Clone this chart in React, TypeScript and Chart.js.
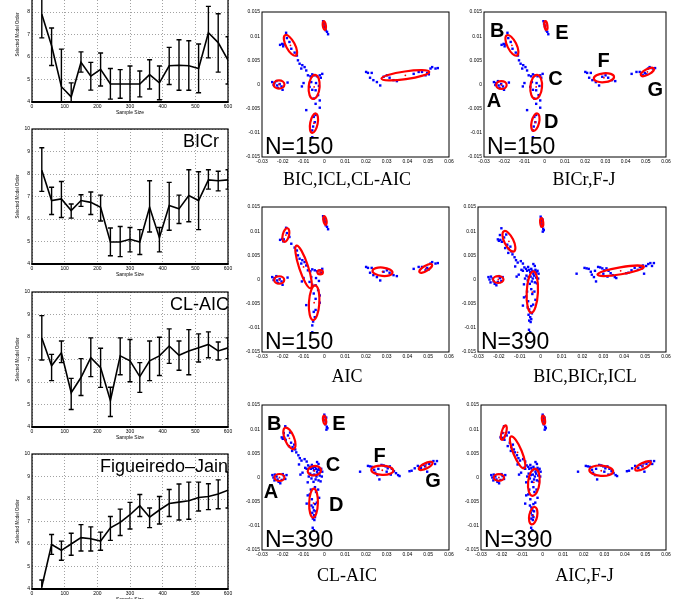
import React, { useEffect, useRef } from "react";
import { Chart, registerables } from "chart.js";

Chart.register(...registerables);

// ---------------- Line charts (selected model order vs sample size) ----------------
const SAMPLE_SIZES = [30, 60, 90, 120, 150, 180, 210, 240, 270, 300, 330, 360, 390, 420, 450, 480, 510, 540, 570, 600];

const ICL_MEAN = [7.9, 6.5, 4.68, 4.23, 5.76, 5.15, 5.45, 4.8, 4.8, 4.8, 4.8, 5.22, 4.85, 5.61, 5.63, 5.61, 5.49, 7.08, 6.64, 5.86];
const ICL_LO = [6.85, 5.62, 3.0, 3.6, 5.33, 4.53, 4.71, 4.13, 4.17, 4.0, 4.23, 4.58, 4.1, 4.78, 4.52, 4.52, 4.41, 5.96, 5.33, 4.8];
const ICL_HI = [8.95, 7.29, 6.35, 4.85, 6.23, 5.76, 6.18, 5.49, 5.44, 5.6, 5.38, 5.88, 5.6, 6.43, 6.77, 6.72, 6.58, 8.25, 7.92, 6.9];

const BICR_MEAN = [8.17, 6.82, 6.89, 6.38, 6.82, 6.74, 6.52, 4.98, 4.98, 5.1, 4.98, 6.52, 5.17, 6.6, 6.45, 7.04, 6.82, 7.74, 7.7, 7.74];
const BICR_LO = [7.23, 6.2, 6.07, 6.04, 6.56, 6.2, 5.91, 4.37, 4.33, 4.54, 4.42, 5.42, 4.54, 5.5, 5.8, 5.88, 5.53, 7.33, 7.25, 7.33];
const BICR_HI = [9.17, 7.41, 7.67, 6.67, 7.08, 7.2, 7.06, 5.6, 5.67, 5.62, 5.53, 7.7, 5.62, 7.63, 7.06, 8.19, 8.1, 8.19, 8.12, 8.19];

const CLAIC_MEAN = [7.96, 6.72, 7.3, 5.52, 6.2, 7.08, 6.64, 5.18, 7.16, 6.94, 6.24, 6.94, 7.16, 7.6, 7.19, 7.38, 7.52, 7.67, 7.38, 7.52];
const CLAIC_LO = [6.98, 6.06, 6.86, 4.78, 5.4, 6.24, 5.76, 4.47, 6.32, 6.01, 5.54, 6.06, 6.29, 6.83, 6.52, 6.32, 6.89, 7.08, 6.98, 7.04];
const CLAIC_HI = [8.95, 7.23, 7.82, 6.16, 7.04, 7.96, 7.5, 5.77, 7.96, 7.89, 6.86, 7.82, 7.99, 8.36, 7.82, 8.33, 8.14, 8.23, 7.78, 7.96];

const FJ_MEAN = [4.1, 5.98, 5.72, 6.0, 6.28, 6.23, 6.13, 6.72, 6.96, 7.3, 7.7, 7.19, 7.51, 7.8, 7.86, 7.92, 8.07, 8.11, 8.22, 8.39];
const FJ_LO = [3.8, 5.54, 5.28, 5.5, 5.69, 5.69, 5.72, 6.16, 6.38, 6.67, 7.22, 6.73, 6.89, 7.22, 7.07, 7.1, 7.47, 7.53, 7.57, 7.6];
const FJ_HI = [4.4, 6.42, 6.13, 6.48, 6.86, 6.76, 6.53, 7.22, 7.55, 7.85, 8.2, 7.6, 8.11, 8.42, 8.67, 8.75, 8.75, 8.68, 8.85, 9.2];

const X_TICKS_STEP = 100;
const Y_ORDER_MIN = 4;
const Y_ORDER_MAX = 10;

// ---------------- Scatter plots (values in units of 1e-3) ----------------
const PTS_N150: [number, number][] = [
  [-25.1, 0.5], [-24.0, 0.3], [-23.1, 0.7], [-22.3, -0.7], [-20.6, -0.4], [-20.1, -1.1], [-17.7, 0.4], [-21.5, 0.1], [-22.8, -0.2], [-24.4, -0.1],
  [-18.4, 10.7], [-21.3, 8.2], [-20.3, 8.4], [-19.5, 8.3], [-16.8, 8.8], [-15.9, 7.4], [-14.3, 6.6], [-13.2, 6.0], [-18.0, 9.6], [-19.8, 7.9],
  [-12.7, 5.0], [-11.9, 4.3], [-10.6, 4.0], [-9.5, 3.6], [-8.7, 2.9], [-11.1, 3.3],
  [-10.8, -0.4], [-10.0, 0.3], [-7.9, 1.9], [-6.7, 1.7], [-5.8, 2.1], [-4.6, 1.9], [-3.5, 1.7], [-2.2, 1.9], [-1.7, 1.4], [-7.1, -0.5],
  [-6.3, 0.5], [-4.2, -1.2], [-3.0, -2.2], [-2.2, -3.3], [-4.2, -4.0], [-5.1, -2.9], [-2.2, -4.8], [-8.7, -5.3], [-5.8, -1.1], [-1.0, 2.2],
  [-4.0, 0.3], [-2.6, -0.3],
  [-5.1, -6.7], [-4.6, -7.8], [-5.4, -8.7], [-5.8, -9.5], [-5.8, -10.9], [-4.2, -6.3],
  [-0.6, 13.1], [-0.3, 12.6], [0.2, 11.9], [0.7, 11.2], [1.3, 10.9], [0.1, 12.2], [1.8, 10.4],
  [20.1, 2.6], [22.8, 2.4], [22.0, 1.4], [23.6, 0.9], [25.3, 0.5], [26.9, -0.2], [30.1, 1.9], [31.4, 1.4], [33.3, 0.9], [34.9, 0.7], [28.5, 1.6], [21.0, 2.4],
  [43.0, 2.2], [45.4, 2.6], [47.0, 2.6], [49.5, 2.4], [51.1, 3.3], [51.9, 3.6], [53.5, 3.3], [50.3, 2.1], [48.7, 1.9], [54.6, 3.4],
];

const PTS_N390: [number, number][] = [
  [-25.0, 0.5], [-24.5, 0.0], [-23.8, 0.6], [-23.0, 0.2], [-22.5, -0.4], [-22.0, -0.9], [-21.2, -1.2], [-20.5, -0.5], [-19.5, 0.3], [-18.8, -0.3], [-18.2, 0.5], [-24.0, -0.6], [-20.0, 0.7],
  [-18.8, 10.6], [-19.5, 9.2], [-20.5, 8.3], [-20.0, 8.0], [-19.3, 8.2], [-18.6, 7.8], [-17.5, 8.7], [-16.5, 9.3], [-16.0, 7.2], [-15.3, 6.3], [-14.5, 6.8], [-14.0, 5.8], [-13.5, 5.2], [-15.5, 5.5], [-17.0, 6.5],
  [-12.5, 4.6], [-11.8, 4.0], [-11.0, 3.5], [-12.2, 2.7], [-9.5, 3.8], [-8.5, 3.3], [-9.2, 2.0], [-10.5, 1.0], [-11.5, 0.6],
  [-8.5, 1.8], [-7.8, 2.5], [-7.0, 2.2], [-6.5, 1.8], [-6.0, 2.6], [-5.5, 2.0], [-5.0, 1.5], [-4.5, 2.2], [-4.0, 1.8], [-3.5, 1.2], [-3.0, 1.6], [-2.5, 2.0], [-2.0, 1.5], [-1.5, 1.8], [-1.0, 1.2],
  [-6.8, 0.8], [-5.8, 0.5], [-4.8, 0.6], [-3.8, 0.2], [-3.2, 0.8], [-2.2, 0.4], [-1.2, 0.2], [-7.5, 0.2], [-6.2, -0.2], [-4.2, -0.4], [-2.8, -0.6], [-1.8, -0.8], [-5.2, -0.9], [-3.5, 3.2], [-2.8, 2.8], [-8.0, -1.0],
  [-6.5, -2.5], [-7.0, -3.5], [-8.0, -3.7], [-6.0, -4.5], [-4.0, -3.0], [-3.0, -2.5], [-4.5, -2.0], [-2.5, -4.2], [-3.6, -5.2], [-8.5, -5.4],
  [-6.2, -5.8], [-5.5, -6.2], [-4.5, -5.5], [-5.0, -6.8], [-4.2, -7.0], [-5.8, -7.3], [-5.0, -7.8], [-4.5, -8.2], [-5.5, -8.5], [-4.8, -8.8], [-5.6, -10.4], [-5.0, -10.9],
  [0.0, 13.0], [0.3, 12.6], [0.6, 12.2], [0.2, 11.8], [0.8, 11.4], [0.5, 11.0], [1.2, 10.5], [1.0, 9.9], [1.5, 10.2], [0.9, 12.4],
  [17.2, 1.2], [21.0, 2.4], [22.0, 2.3], [23.0, 2.2], [24.0, 1.6], [24.5, 1.0], [25.5, 0.5], [26.5, -0.4], [27.5, 2.6], [28.5, 2.5], [29.5, 2.3], [30.5, 1.9], [31.5, 2.3], [32.5, 1.8], [33.5, 1.3], [34.5, 0.9], [35.5, 0.5], [36.2, 0.3], [26.0, 1.8], [30.0, 1.2], [32.0, 0.6],
  [41.0, 1.3], [42.0, 1.4], [43.5, 1.9], [45.0, 2.4], [46.5, 2.0], [47.5, 2.6], [48.5, 2.3], [49.5, 1.2], [50.5, 2.8], [51.5, 3.2], [52.5, 3.4], [54.2, 3.4], [53.3, 2.8], [49.0, 2.9],
];

// ellipse: [centerX, centerY, majorAxisEndX, majorAxisEndY, minor/major ratio]
const ELL_150_BIC_ICL_CLAIC: number[][] = [
  [-21.8, 0, -19.2, 0, 0.75], [-16.3, 8.1, -18.9, 10.2, 0.38], [0, 12.2, -0.3, 13.1, 0.35],
  [-4.9, -0.5, -4.4, 2.0, 0.45], [-5.0, -8.0, -4.1, -6.0, 0.38], [39.0, 1.9, 50.5, 2.6, 0.16],
];
const ELL_150_BICR_FJ: number[][] = [
  [-21.4, -0.1, -18.8, -0.1, 0.75], [-16.2, 8.1, -18.7, 10.2, 0.4], [0.6, 12.2, 0.3, 13.1, 0.35],
  [-4.2, -0.5, -3.7, 2.0, 0.48], [-4.6, -7.8, -3.6, -6.0, 0.42], [29.3, 1.4, 34.3, 1.6, 0.44], [50.8, 2.6, 54.0, 3.3, 0.38],
];
const ELL_150_AIC: number[][] = [
  [-21.7, -0.1, -19.3, -0.1, 0.75], [-18.5, 9.2, -17.7, 10.6, 0.45], [-10.0, 2.6, -13.4, 7.0, 0.2], [-2.0, 1.5, -0.7, 1.5, 0.8],
  [0.3, 12.2, -0.1, 13.1, 0.35], [-4.9, -4.8, -4.4, -1.2, 0.3], [28.0, 1.6, 32.8, 1.4, 0.42], [48.8, 2.3, 51.8, 3.1, 0.35],
];
const ELL_390_BIC_BICR_ICL: number[][] = [
  [-20.3, 0, -17.8, 0, 0.65], [-15.2, 7.9, -17.6, 10.0, 0.4], [0.5, 11.8, 0.3, 12.7, 0.35],
  [-4.0, -2.6, -3.5, 1.7, 0.27], [38.3, 1.8, 49.4, 2.6, 0.15],
];
const ELL_390_CLAIC: number[][] = [
  [-21.6, 0, -19.2, 0, 0.7], [-16.8, 8.1, -18.9, 10.3, 0.4], [0.1, 11.9, -0.2, 12.8, 0.35], [-4.8, 1.4, -1.6, 1.6, 0.7],
  [-5.2, -5.3, -5.0, -2.3, 0.3], [27.9, 1.5, 33.2, 1.4, 0.42], [48.8, 2.4, 52.1, 3.1, 0.35],
];
const ELL_390_AIC_FJ: number[][] = [
  [-21.3, 0, -18.8, 0, 0.65], [-18.9, 9.3, -17.9, 10.8, 0.3], [-12.2, 5.2, -15.4, 8.5, 0.25], [0.4, 11.9, 0.1, 12.8, 0.35],
  [-4.3, -1.0, -3.6, 1.8, 0.42], [-4.6, -7.9, -3.8, -6.1, 0.45], [28.5, 1.4, 34.3, 1.2, 0.43], [48.8, 2.4, 52.6, 3.2, 0.33],
];

const LABELS_150_BICR_FJ: [string, number, number][] = [
  ["A", -25.1, -3.6], ["B", -23.4, 10.9], ["C", 5.4, 1.0], ["D", 3.2, -7.8], ["E", 8.5, 10.5], ["F", 29.2, 4.8], ["G", 54.7, -1.2],
];
const LABELS_390_CLAIC: [string, number, number][] = [
  ["A", -25.7, -3.2], ["B", -24.1, 10.9], ["C", 4.1, 2.5], ["D", 5.7, -5.8], ["E", 7.0, 11.0], ["F", 26.6, 4.4], ["G", 52.3, -0.9],
];

const X_MIN = -0.03, X_MAX = 0.06, X_STEP = 0.01;
const Y_MIN = -0.015, Y_MAX = 0.015, Y_STEP = 0.005;

// ---------------- helpers / plugins ----------------
const SANS = "'Liberation Sans', Arial, Helvetica, sans-serif";
const SERIF = "'Liberation Serif', 'Times New Roman', Times, serif";

function clipToArea(ctx: CanvasRenderingContext2D, a: any) {
  ctx.beginPath();
  ctx.rect(a.left, a.top, a.right - a.left, a.bottom - a.top);
  ctx.clip();
}

function framePlugin(w: number, bottomW: number) {
  return {
    id: "frame",
    afterDraw(chart: any) {
      const { ctx, chartArea: a } = chart;
      ctx.save();
      ctx.strokeStyle = "#000";
      ctx.lineWidth = w;
      ctx.strokeRect(a.left, a.top, a.right - a.left, a.bottom - a.top);
      if (bottomW > w) {
        ctx.lineWidth = bottomW;
        ctx.beginPath();
        ctx.moveTo(a.left - w / 2, a.bottom);
        ctx.lineTo(a.right + w / 2, a.bottom);
        ctx.stroke();
      }
      ctx.restore();
    },
  };
}

function errorBarPlugin(xs: number[], lo: number[], hi: number[]) {
  return {
    id: "errorbars",
    afterDatasetsDraw(chart: any) {
      const { ctx, chartArea: a, scales } = chart;
      ctx.save();
      clipToArea(ctx, a);
      ctx.strokeStyle = "#000";
      ctx.lineWidth = 1.4;
      xs.forEach((v, i) => {
        const px = scales.x.getPixelForValue(v);
        const p1 = scales.y.getPixelForValue(lo[i]);
        const p2 = scales.y.getPixelForValue(hi[i]);
        ctx.beginPath();
        ctx.moveTo(px, p1); ctx.lineTo(px, p2);
        ctx.moveTo(px - 2.5, p1); ctx.lineTo(px + 2.5, p1);
        ctx.moveTo(px - 2.5, p2); ctx.lineTo(px + 2.5, p2);
        ctx.stroke();
      });
      ctx.restore();
    },
  };
}

function ellipsePlugin(ells: number[][]) {
  return {
    id: "ellipses",
    afterDatasetsDraw(chart: any) {
      const { ctx, chartArea: a, scales } = chart;
      ctx.save();
      clipToArea(ctx, a);
      ctx.strokeStyle = "#ff0000";
      ctx.fillStyle = "#ff0000";
      ctx.lineWidth = 2.2;
      for (const [cx, cy, ex, ey, r] of ells) {
        const px = scales.x.getPixelForValue(cx / 1000);
        const py = scales.y.getPixelForValue(cy / 1000);
        const qx = scales.x.getPixelForValue(ex / 1000);
        const qy = scales.y.getPixelForValue(ey / 1000);
        const major = Math.hypot(qx - px, qy - py);
        const ang = Math.atan2(qy - py, qx - px);
        ctx.beginPath();
        ctx.ellipse(px, py, major, major * r, ang, 0, Math.PI * 2);
        ctx.stroke();
        ctx.beginPath();
        ctx.arc(px, py, 0.9, 0, Math.PI * 2);
        ctx.fill();
      }
      ctx.restore();
    },
  };
}

function letterPlugin(labels: [string, number, number][]) {
  return {
    id: "letters",
    afterDatasetsDraw(chart: any) {
      const { ctx, scales } = chart;
      ctx.save();
      ctx.fillStyle = "#000";
      ctx.font = `bold 20px ${SANS}`;
      ctx.textAlign = "center";
      ctx.textBaseline = "middle";
      for (const [t, x, y] of labels) {
        ctx.fillText(t, scales.x.getPixelForValue(x / 1000), scales.y.getPixelForValue(y / 1000));
      }
      ctx.restore();
    },
  };
}

type TextItem = { text: string; font: string; align: CanvasTextAlign; at: (a: any) => [number, number] };
function textPlugin(items: TextItem[]) {
  return {
    id: "texts",
    afterDraw(chart: any) {
      const { ctx, chartArea } = chart;
      ctx.save();
      ctx.fillStyle = "#000";
      ctx.textBaseline = "alphabetic";
      for (const it of items) {
        const [x, y] = it.at(chartArea);
        ctx.font = it.font;
        ctx.textAlign = it.align;
        ctx.fillText(it.text, x, y);
      }
      ctx.restore();
    },
  };
}

const fmt = (v: any) => String(Number(Number(v).toFixed(4)));

function lineConfig(title: string, mean: number[], lo: number[], hi: number[], titleDx: number) {
  const tickFont = { family: SANS, size: 5 };
  const grid = { color: "#7a7a7a", lineWidth: 0.7, drawTicks: false };
  const border = { display: false, dash: [1, 2] };
  return {
    type: "line",
    data: {
      datasets: [{
        data: SAMPLE_SIZES.map((x, i) => ({ x, y: mean[i] })),
        borderColor: "#000", borderWidth: 1.6, pointRadius: 0, tension: 0, fill: false,
      }],
    },
    options: {
      animation: false, responsive: false, events: [],
      layout: { padding: { top: 4, right: 6, bottom: 0, left: 0 } },
      plugins: { legend: { display: false }, tooltip: { enabled: false } },
      scales: {
        x: {
          type: "linear", min: 0, max: 600,
          ticks: { stepSize: X_TICKS_STEP, font: tickFont, color: "#000", padding: 1.5, maxRotation: 0, autoSkip: false },
          grid, border,
          title: { display: true, text: "Sample Size", font: { family: SANS, size: 5 }, color: "#000", padding: { top: 0, bottom: 4 } },
          afterFit: (s: any) => { s.height = 18; },
        },
        y: {
          type: "linear", min: Y_ORDER_MIN, max: Y_ORDER_MAX,
          ticks: { stepSize: 1, font: tickFont, color: "#000", padding: 2 },
          grid, border,
          title: { display: true, text: "Selected Model Order", font: { family: SANS, size: 4.5 }, color: "#000", padding: { top: 15, bottom: 0 } },
          afterFit: (s: any) => { s.width = 32; },
        },
      },
    },
    plugins: [
      errorBarPlugin(SAMPLE_SIZES, lo, hi),
      framePlugin(1.2, 2),
      textPlugin([{ text: title, font: `18px ${SANS}`, align: "right", at: (a) => [a.right + titleDx, a.top + 17.5] }]),
    ],
  };
}

function scatterConfig(p: {
  pts: [number, number][]; ells: number[][]; n: string; caption: string;
  capDx: number; capDy: number; axisW: number; padRight: number; letters?: [string, number, number][];
}) {
  const tickFont = { family: SANS, size: 5 };
  const plugins: any[] = [ellipsePlugin(p.ells)];
  if (p.letters) plugins.push(letterPlugin(p.letters));
  plugins.push(framePlugin(1, 1));
  plugins.push(textPlugin([
    { text: p.n, font: `23px ${SANS}`, align: "left", at: (a) => [a.left + 3, a.bottom - 3.5] },
    { text: p.caption, font: `18px ${SERIF}`, align: "center", at: (a) => [(a.left + a.right) / 2 + p.capDx, a.bottom + p.capDy] },
  ]));
  return {
    type: "scatter",
    data: {
      datasets: [{
        data: p.pts.map(([x, y]) => ({ x: x / 1000, y: y / 1000 })),
        pointStyle: "rect", pointRadius: 1.7, backgroundColor: "#0000ff", borderColor: "#0000ff", borderWidth: 0,
      }],
    },
    options: {
      animation: false, responsive: false, events: [],
      layout: { padding: { top: 8, right: p.padRight, bottom: 0, left: 0 } },
      plugins: { legend: { display: false }, tooltip: { enabled: false } },
      scales: {
        x: {
          type: "linear", min: X_MIN, max: X_MAX,
          ticks: { stepSize: X_STEP, font: tickFont, color: "#000", padding: 1.5, maxRotation: 0, autoSkip: false, callback: fmt },
          grid: { display: false, drawTicks: false }, border: { display: false },
          afterFit: (s: any) => { s.height = 35; },
        },
        y: {
          type: "linear", min: Y_MIN, max: Y_MAX,
          ticks: { stepSize: Y_STEP, font: tickFont, color: "#000", padding: 2, autoSkip: false, callback: fmt },
          grid: { display: false, drawTicks: false }, border: { display: false },
          afterFit: (s: any) => { s.width = p.axisW; },
        },
      },
    },
    plugins,
  };
}

function ChartBox({ left, top, width, height, make }: { left: number; top: number; width: number; height: number; make: () => any }) {
  const ref = useRef<HTMLCanvasElement>(null);
  useEffect(() => {
    if (!ref.current) return;
    const chart = new Chart(ref.current, make());
    return () => chart.destroy();
  }, []);
  return (
    <canvas ref={ref} width={width} height={height}
      style={{ position: "absolute", left, top, width, height, display: "block" }} />
  );
}

export default function App() {
  const lines = [
    { top: -38, title: "ICL", mean: ICL_MEAN, lo: ICL_LO, hi: ICL_HI, dx: -2 },
    { top: 124, title: "BICr", mean: BICR_MEAN, lo: BICR_LO, hi: BICR_HI, dx: -9 },
    { top: 287, title: "CL-AIC", mean: CLAIC_MEAN, lo: CLAIC_LO, hi: CLAIC_HI, dx: 1 },
    { top: 449, title: "Figueiredo\u2013Jain", mean: FJ_MEAN, lo: FJ_LO, hi: FJ_HI, dx: 0 },
  ];
  const scatters = [
    { left: 232, top: 4, width: 226, axisW: 30, padRight: 9, capDx: -8.5, capDy: 27.5, pts: PTS_N150, ells: ELL_150_BIC_ICL_CLAIC, n: "N=150", caption: "BIC,ICL,CL-AIC" },
    { left: 458, top: 4, width: 215, axisW: 26, padRight: 7, capDx: 9, capDy: 27.5, pts: PTS_N150, ells: ELL_150_BICR_FJ, n: "N=150", caption: "BICr,F-J", letters: LABELS_150_BICR_FJ },
    { left: 232, top: 199, width: 226, axisW: 30, padRight: 9, capDx: -8.5, capDy: 29.5, pts: PTS_N150, ells: ELL_150_AIC, n: "N=150", caption: "AIC" },
    { left: 458, top: 199, width: 215, axisW: 20, padRight: 7, capDx: 13, capDy: 29.5, pts: PTS_N390, ells: ELL_390_BIC_BICR_ICL, n: "N=390", caption: "BIC,BICr,ICL" },
    { left: 232, top: 397, width: 226, axisW: 30, padRight: 9, capDx: -8.5, capDy: 31, pts: PTS_N390, ells: ELL_390_CLAIC, n: "N=390", caption: "CL-AIC", letters: LABELS_390_CLAIC },
    { left: 458, top: 397, width: 215, axisW: 23, padRight: 7, capDx: 11, capDy: 31, pts: PTS_N390, ells: ELL_390_AIC_FJ, n: "N=390", caption: "AIC,F-J" },
  ];
  return (
    <div style={{ position: "fixed", left: 0, top: 0, width: 673, height: 599, overflow: "hidden", background: "#fff" }}>
      {lines.map((l, i) => (
        <ChartBox key={"l" + i} left={0} top={l.top} width={234} height={158}
          make={() => lineConfig(l.title, l.mean, l.lo, l.hi, l.dx)} />
      ))}
      {scatters.map((s, i) => (
        <ChartBox key={"s" + i} left={s.left} top={s.top} width={s.width} height={188}
          make={() => scatterConfig(s)} />
      ))}
    </div>
  );
}
